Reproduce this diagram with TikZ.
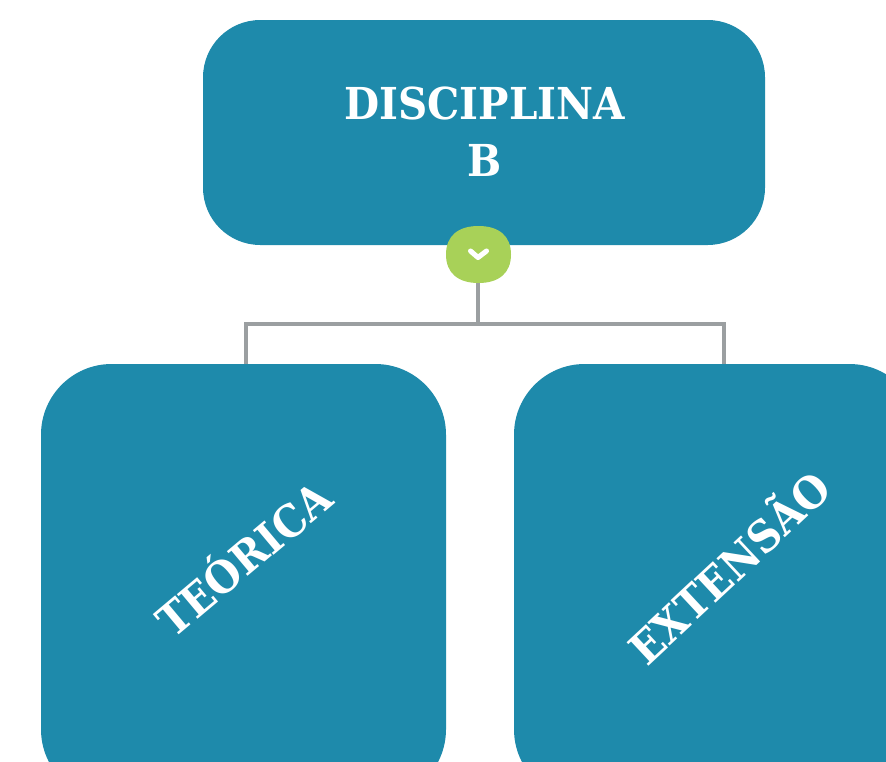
\documentclass[tikz,border=0pt]{standalone}
\usepackage{fontspec}
\setmainfont[FakeStretch=0.92]{DejaVu Serif}
\definecolor{teal1}{HTML}{1E8AAB}
\definecolor{lime1}{HTML}{A8D158}
\definecolor{gray1}{HTML}{9B9FA1}
\tikzset{
  boxtext/.style={text=white,font=\bfseries\fontsize{33}{42.75}\selectfont,align=center},
  wire/.style={draw=gray1,line width=2.6pt}
}
\begin{document}
\begin{tikzpicture}[x=0.75pt,y=-0.75pt]
\useasboundingbox (0,0) rectangle (886,761);
\begin{scope}
\clip (0,0) rectangle (886,761);
\coordinate (j) at (478,324);
\coordinate (l) at (246,324);
\coordinate (r) at (724,324);
\coordinate (lb) at (246,364);
\coordinate (rb) at (724,364);
\coordinate (t) at (478,270);
\draw[wire] (t) -- (j);
\draw[wire] (lb) -- (l) -- (r) -- (rb);
\fill[teal1,rounded corners=43pt] (203,20) rectangle (765,245);
\fill[teal1,rounded corners=53pt] (41,364) rectangle (446,800);
\fill[teal1,rounded corners=53pt] (514,364) rectangle (920,800);
\fill[lime1] (478.5,226) .. controls (499,226) and (511,236) .. (511,254.5)
  .. controls (511,273) and (499,283) .. (478.5,283)
  .. controls (458,283) and (446,273) .. (446,254.5)
  .. controls (446,236) and (458,226) .. (478.5,226) -- cycle;
\draw[white,line width=3.8pt,line cap=round,line join=round] (470.5,251) -- (478,257.5) -- (486.5,251);
\node[boxtext] (a) at (484.5,132) {DISCIPLINA\\B};
\node[boxtext,rotate=40] (b) at (241.5,556) {TEÓRICA};
\node[boxtext,rotate=43] (c) at (727,565) {EXTENSÃO};
\end{scope}
\end{tikzpicture}
\end{document}
